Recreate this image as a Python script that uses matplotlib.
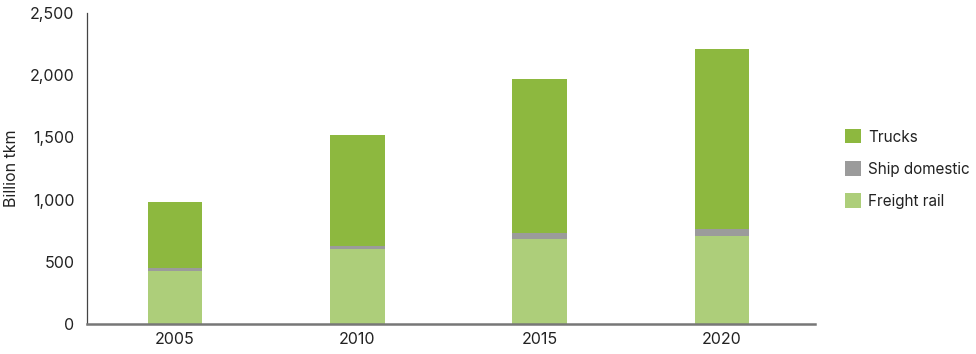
import numpy as np
import matplotlib.pyplot as plt

plt.rcParams['font.family'] = ['Inter', 'DejaVu Sans']

years = ['2005', '2010', '2015', '2020']
freight_rail = [428, 602, 683, 710]
ship_domestic = [21, 29, 45, 54]
trucks = [535, 885, 1245, 1443]

c_trucks = '#8db83f'
c_ship = '#9b9b9b'
c_rail = '#adce7a'

fig = plt.figure(figsize=(9.76, 3.54), dpi=100)
ax = fig.add_axes([87 / 976, 1 - 324 / 354, (815 - 87) / 976, (324 - 13) / 354])

x = np.arange(len(years))
w = 0.30
rail = np.array(freight_rail)
ship = np.array(ship_domestic)
ax.bar(x, rail, w, color=c_rail, label='Freight rail')
ax.bar(x, ship, w, bottom=rail, color=c_ship, label='Ship domestic')
ax.bar(x, trucks, w, bottom=rail + ship, color=c_trucks, label='Trucks')

ax.set_xlim(-0.483, 3.51)
ax.set_ylim(0, 2500)
ax.set_xticks(x)
ax.set_xticklabels(years)
ax.set_yticks([0, 500, 1000, 1500, 2000, 2500])
ax.set_yticklabels(['0', '500', '1,000', '1,500', '2,000', '2,500'])
ax.tick_params(length=0, labelsize=11.5, colors='#222222', pad=9)
ax.tick_params(axis='x', pad=6)
ax.set_ylabel('Billion tkm', fontsize=11.5, color='#222222', labelpad=8)

for s in ['top', 'right']:
    ax.spines[s].set_visible(False)
ax.spines['left'].set_color('#444444')
ax.spines['left'].set_linewidth(0.9)
ax.spines['bottom'].set_color('#777777')
ax.spines['bottom'].set_linewidth(1.8)

h, l = ax.get_legend_handles_labels()
ax.legend(h[::-1], l[::-1], loc='center left', bbox_to_anchor=(831 / 976, 1 - 169 / 354),
          bbox_transform=fig.transFigure, frameon=False, fontsize=11,
          handlelength=1.05, handleheight=1.05, handletextpad=0.5, labelspacing=1.1,
          labelcolor='#222222')

fig.savefig('out.png', dpi=100)
